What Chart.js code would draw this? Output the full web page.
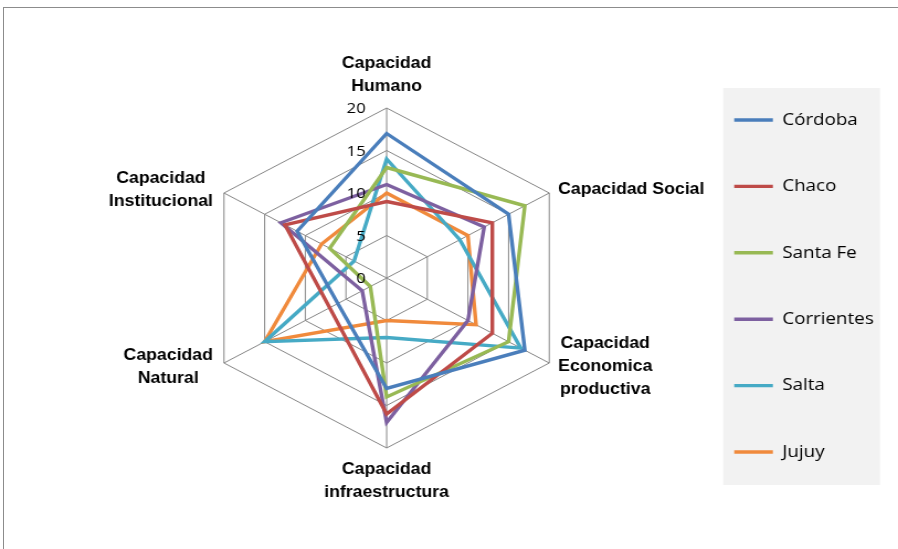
<!DOCTYPE html>
<html>
<head>
<meta charset="utf-8">
<script src="https://cdn.jsdelivr.net/npm/chart.js@4.4.1/dist/chart.umd.min.js"></script>
<style>
  html, body { margin: 0; padding: 0; background: #fff; }
  #frame { position: absolute; left: 3px; top: 7px; width: 900px; height: 545px; border-top: 1px solid #8c8c8c; border-left: 1px solid #8c8c8c; }
  /* the original picture is stretched a little sideways */
  #chart { position: absolute; left: 0; top: 0; transform: scaleX(1.1046); transform-origin: 0 0; }
</style>
</head>
<body>
<div id="frame"></div>
<canvas id="chart" width="813" height="549"></canvas>
<script>
var categories = [['Capacidad', 'Humano'], 'Capacidad Social', ['Capacidad', 'Economica', 'productiva'],
                  ['Capacidad', 'infraestructura'], ['Capacidad', 'Natural'], ['Capacidad', 'Institucional']];
var cordoba    = [17, 15, 17, 13, 6, 11];
var chaco      = [9, 13, 13, 16, 7, 12.5];
var santaFe    = [13, 17, 15, 14, 2, 7];
var corrientes = [11, 12, 10, 17, 3, 13];
var salta      = [14, 9, 16.5, 7, 15, 4];
var jujuy      = [10, 10, 11, 5, 15, 8];
var tickValues = [0, 5, 10, 15, 20];

// tick numbers and category names, placed like the spreadsheet does it
var axisText = {
   id: 'axisText',
   afterDraw: function(chart) {
      var ctx = chart.ctx;
      var scale = chart.scales.r;
      ctx.save();
      ctx.fillStyle = '#000';
      ctx.font = '15px "Open Sans"';
      ctx.textAlign = 'right';
      ctx.textBaseline = 'middle';
      scale.ticks.forEach(function(t) {
         var d = scale.getDistanceFromCenterForValue(t.value);
         ctx.fillText(t.label, scale.xCenter - 19, scale.yCenter - d + 1);
      });

      ctx.font = 'bold 16px "Liberation Sans"';
      ctx.textAlign = 'center';
      var lineH = 23;
      chart.data.labels.forEach(function(label, i) {
         var lines = [].concat(label);
         var p = scale.getPointPosition(i, scale.drawingArea);
         var w = Math.max.apply(null, lines.map(function(s) { return ctx.measureText(s).width; }));
         var h = lines.length * lineH;
         var cx, top;
         if (Math.abs(p.x - scale.xCenter) < 1) {
            cx = p.x;
            top = p.y < scale.yCenter ? p.y - 10 - h : p.y + 10;
         } else {
            cx = p.x > scale.xCenter ? p.x + 8 + w / 2 : p.x - 10 - w / 2;
            top = p.y - h / 2 + (p.y < scale.yCenter ? -3 : 4);
         }
         lines.forEach(function(s, k) {
            ctx.fillText(s, cx, top + lineH * (k + 0.5));
         });
      });
      ctx.restore();
   }
};

// grey panel behind the legend
var legendPanel = {
   id: 'legendPanel',
   beforeDraw: function(chart) {
      var boxes = chart.legend.legendHitBoxes;
      if (!boxes || !boxes.length) return;
      var first = boxes[0], last = boxes[boxes.length - 1];
      var top = first.top + first.height / 2 - 32;
      var bottom = last.top + last.height / 2 + 33;
      var ctx = chart.ctx;
      ctx.save();
      ctx.fillStyle = '#f2f2f2';
      ctx.fillRect(first.left - 10, top, 142, bottom - top);
      ctx.restore();
   }
};

function line(label, data, color) {
   return {
      label: label,
      data: data,
      borderColor: color,
      backgroundColor: color,
      borderWidth: 3.4,
      borderCapStyle: 'round',
      fill: false,
      pointRadius: 0,
      pointHoverRadius: 0
   };
}

var ctx = document.getElementById('chart').getContext('2d');
var config = {
   type: 'radar',
   data: {
      labels: categories,
      datasets: [
         line('Córdoba', cordoba, '#4a7ebb'),
         line('Chaco', chaco, '#be4b48'),
         line('Santa Fe', santaFe, '#98b954'),
         line('Corrientes', corrientes, '#7d60a0'),
         line('Salta', salta, '#46aac5'),
         line('Jujuy', jujuy, '#f08a3c')
      ]
   },
   options: {
      responsive: false,
      animation: false,
      events: [],
      layout: { padding: { top: 31, bottom: 8, left: 0, right: 12 } },
      plugins: {
         title: { display: false },
         tooltip: { enabled: false },
         legend: {
            position: 'right',
            labels: {
               usePointStyle: true,
               pointStyle: 'line',
               pointStyleWidth: 35,
               padding: 49.4,
               color: '#000',
               font: { family: 'Open Sans', size: 17 }
            }
         }
      },
      scales: {
         r: {
            min: tickValues[0],
            max: tickValues[tickValues.length - 1],
            ticks: { stepSize: tickValues[1] - tickValues[0], display: false },
            pointLabels: { display: false },
            grid: { color: '#868686', lineWidth: 1 },
            angleLines: { color: '#868686', lineWidth: 1 },
            afterFit: function(scale) {
               scale.xCenter = 350;
               scale.yCenter = 278;
               scale.drawingArea = 170;
            }
         }
      }
   },
   plugins: [legendPanel, axisText]
};

var chart = new Chart(ctx, config);
</script>
</body>
</html>
